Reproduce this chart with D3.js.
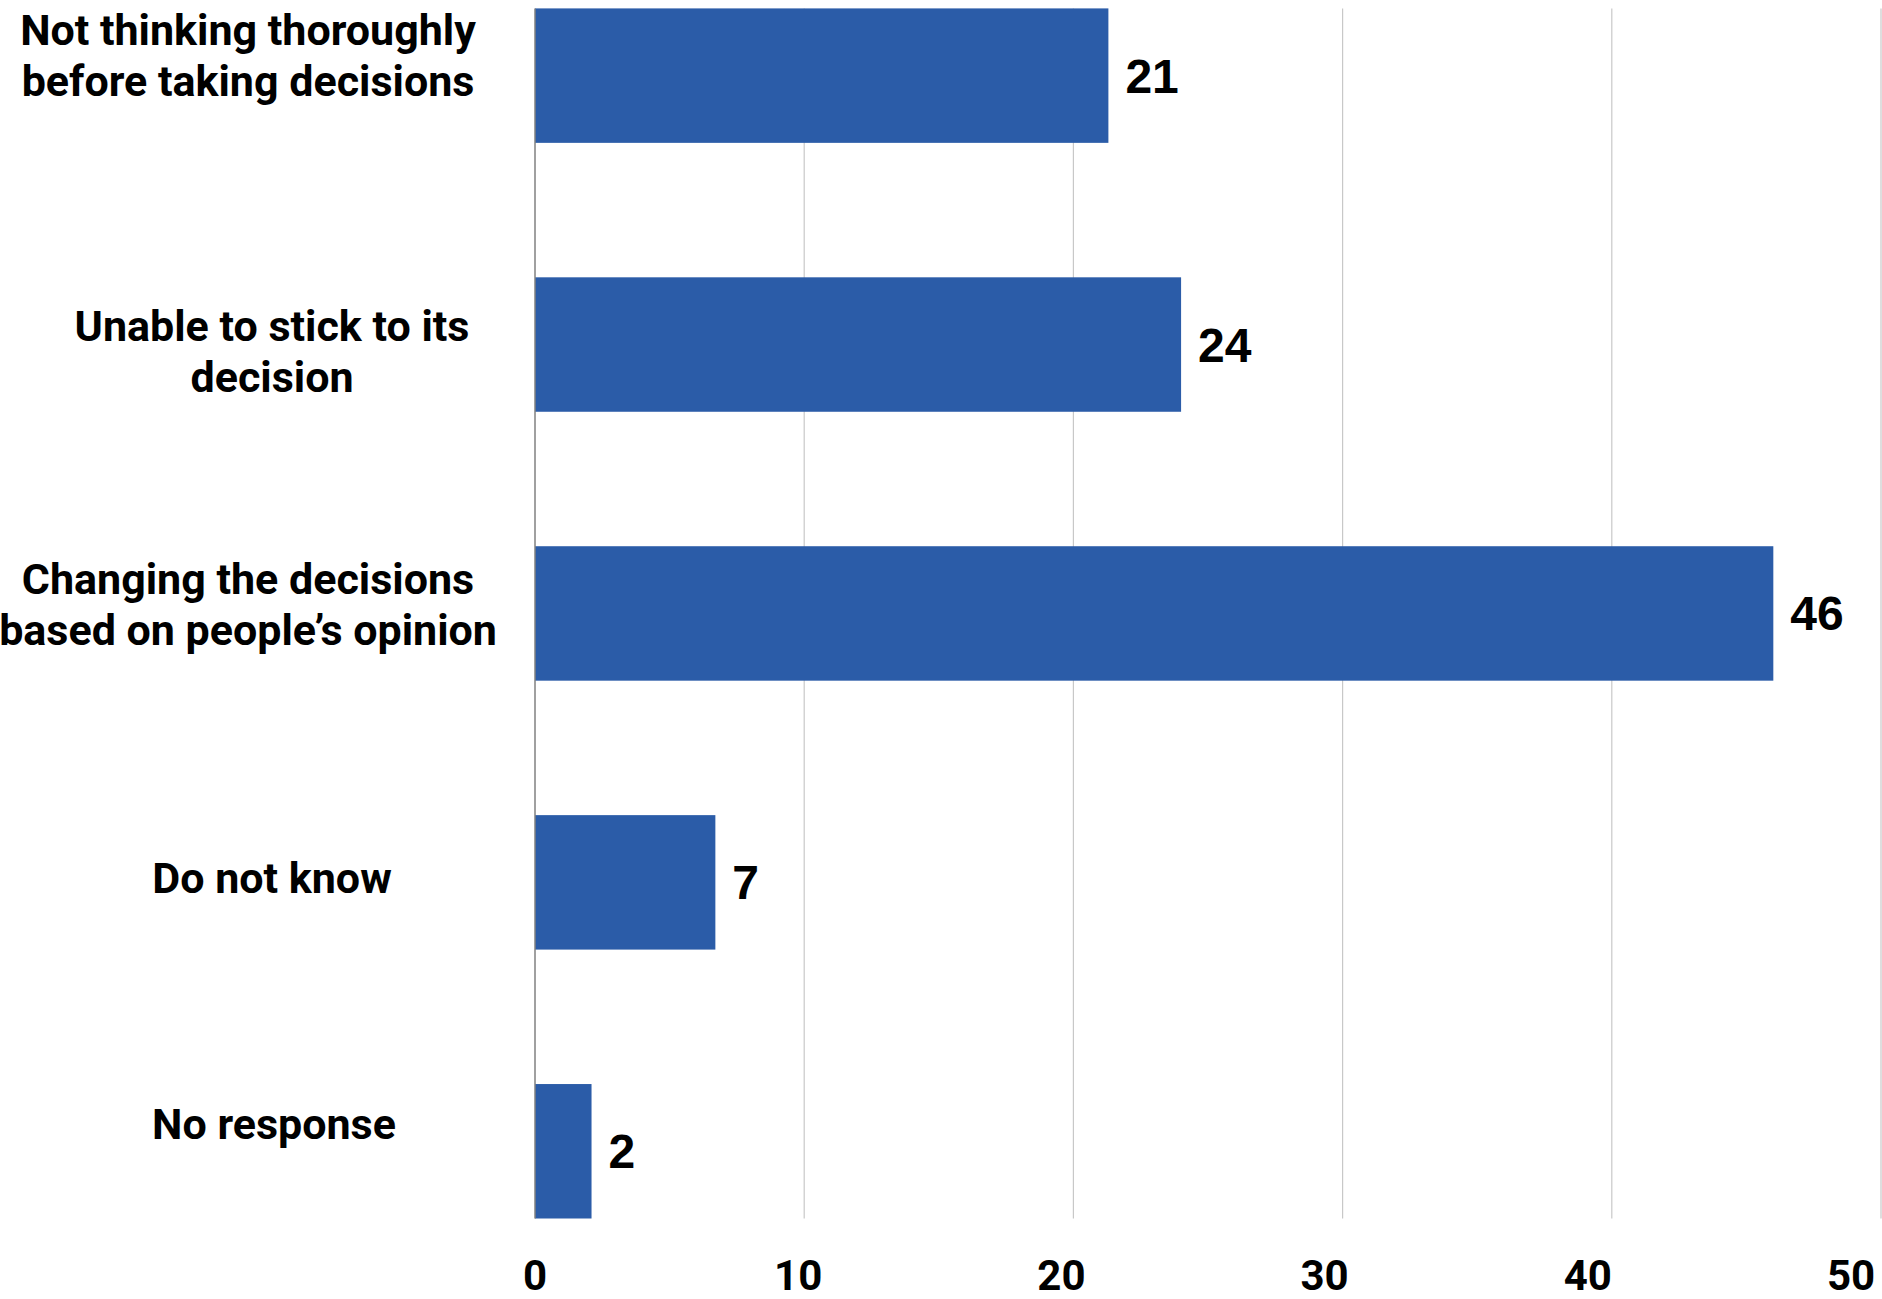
<!DOCTYPE html>
<html>
<head>
<meta charset="utf-8">
<script src="https://cdn.jsdelivr.net/npm/d3@7"></script>
<style>
  html, body { margin: 0; padding: 0; background: #fff; }
  svg { display: block; }
</style>
</head>
<body>
<svg id="chart" width="1882" height="1299"></svg>
<script>
// ---- data ----
const categories = [
  "Not thinking thoroughly before taking decisions",
  "Unable to stick to its decision",
  "Changing the decisions based on people’s opinion",
  "Do not know",
  "No response"
];
const categoryLines = [
  ["Not thinking thoroughly", "before taking decisions"],
  ["Unable to stick to its", "decision"],
  ["Changing the decisions", "based on people’s opinion"],
  ["Do not know"],
  ["No response"]
];
const values = [21.3, 24.0, 46.0, 6.7, 2.1];
const valueLabels = ["21", "24", "46", "7", "2"];
const tickValues = [0, 10, 20, 30, 40, 50];
const tickLabels = ["0", "10", "20", "30", "40", "50"];

// ---- layout ----
const W = 1882, H = 1299;
const plot = { left: 535, right: 1881, top: 8.4, bottom: 1218.5 };
const labelX = [248, 272, 248, 272, 274];
const labelNudge = [-20, 7, -9, -5, -28];
const barColor = "#2B5CA8";

const svg = d3.select("#chart");
svg.append("rect").attr("width", W).attr("height", H).attr("fill", "#fff");

const x = d3.scaleLinear().domain([0, 50]).range([plot.left, plot.right]);
const xLabel = d3.scaleLinear().domain([0, 50]).range([plot.left, 1851]);
const y = d3.scaleBand().domain(categories).range([plot.top, plot.bottom])
  .paddingInner(0.5).paddingOuter(0);

// gridlines
svg.append("g").selectAll("line")
  .data(tickValues.filter(d => d > 0))
  .join("line")
  .attr("x1", d => x(d)).attr("x2", d => x(d))
  .attr("y1", plot.top).attr("y2", plot.bottom)
  .attr("stroke", "#c8c8c8").attr("stroke-width", 1.2);

// bars
svg.append("g").selectAll("rect")
  .data(values)
  .join("rect")
  .attr("x", x(0))
  .attr("y", (d, i) => y(categories[i]))
  .attr("width", d => x(d) - x(0))
  .attr("height", y.bandwidth())
  .attr("fill", barColor);

// y axis line
svg.append("line")
  .attr("x1", x(0)).attr("x2", x(0))
  .attr("y1", plot.top).attr("y2", plot.bottom)
  .attr("stroke", "#808080").attr("stroke-width", 1.5);

// value labels
svg.append("g").selectAll("text")
  .data(values)
  .join("text")
  .attr("x", d => x(d) + 17)
  .attr("y", (d, i) => y(categories[i]) + y.bandwidth() / 2 + 17)
  .attr("font-family", "'Liberation Sans', Arial, sans-serif")
  .attr("font-weight", "bold")
  .attr("font-size", 48)
  .attr("fill", "#000")
  .text((d, i) => valueLabels[i]);

// x tick labels
svg.append("g").selectAll("text")
  .data(tickValues)
  .join("text")
  .attr("x", d => xLabel(d))
  .attr("y", 1290)
  .attr("text-anchor", "middle")
  .attr("font-family", "Roboto, sans-serif")
  .attr("font-weight", "bold")
  .attr("font-size", 42)
  .attr("fill", "#000")
  .text((d, i) => tickLabels[i]);

// category labels
const lineH = 51, capH = 30.5;
const cat = svg.append("g")
  .attr("font-family", "Roboto, sans-serif")
  .attr("font-weight", "bold")
  .attr("font-size", 43)
  .attr("fill", "#000")
  .attr("text-anchor", "middle");
categories.forEach((c, i) => {
  const lines = categoryLines[i];
  const cy = y(c) + y.bandwidth() / 2 + labelNudge[i];
  const first = cy - ((lines.length - 1) * lineH + capH) / 2 + capH;
  const t = cat.append("text").attr("x", labelX[i]).attr("y", first);
  lines.forEach((ln, j) => {
    t.append("tspan").attr("x", labelX[i]).attr("y", first + j * lineH).text(ln);
  });
});
</script>
</body>
</html>
